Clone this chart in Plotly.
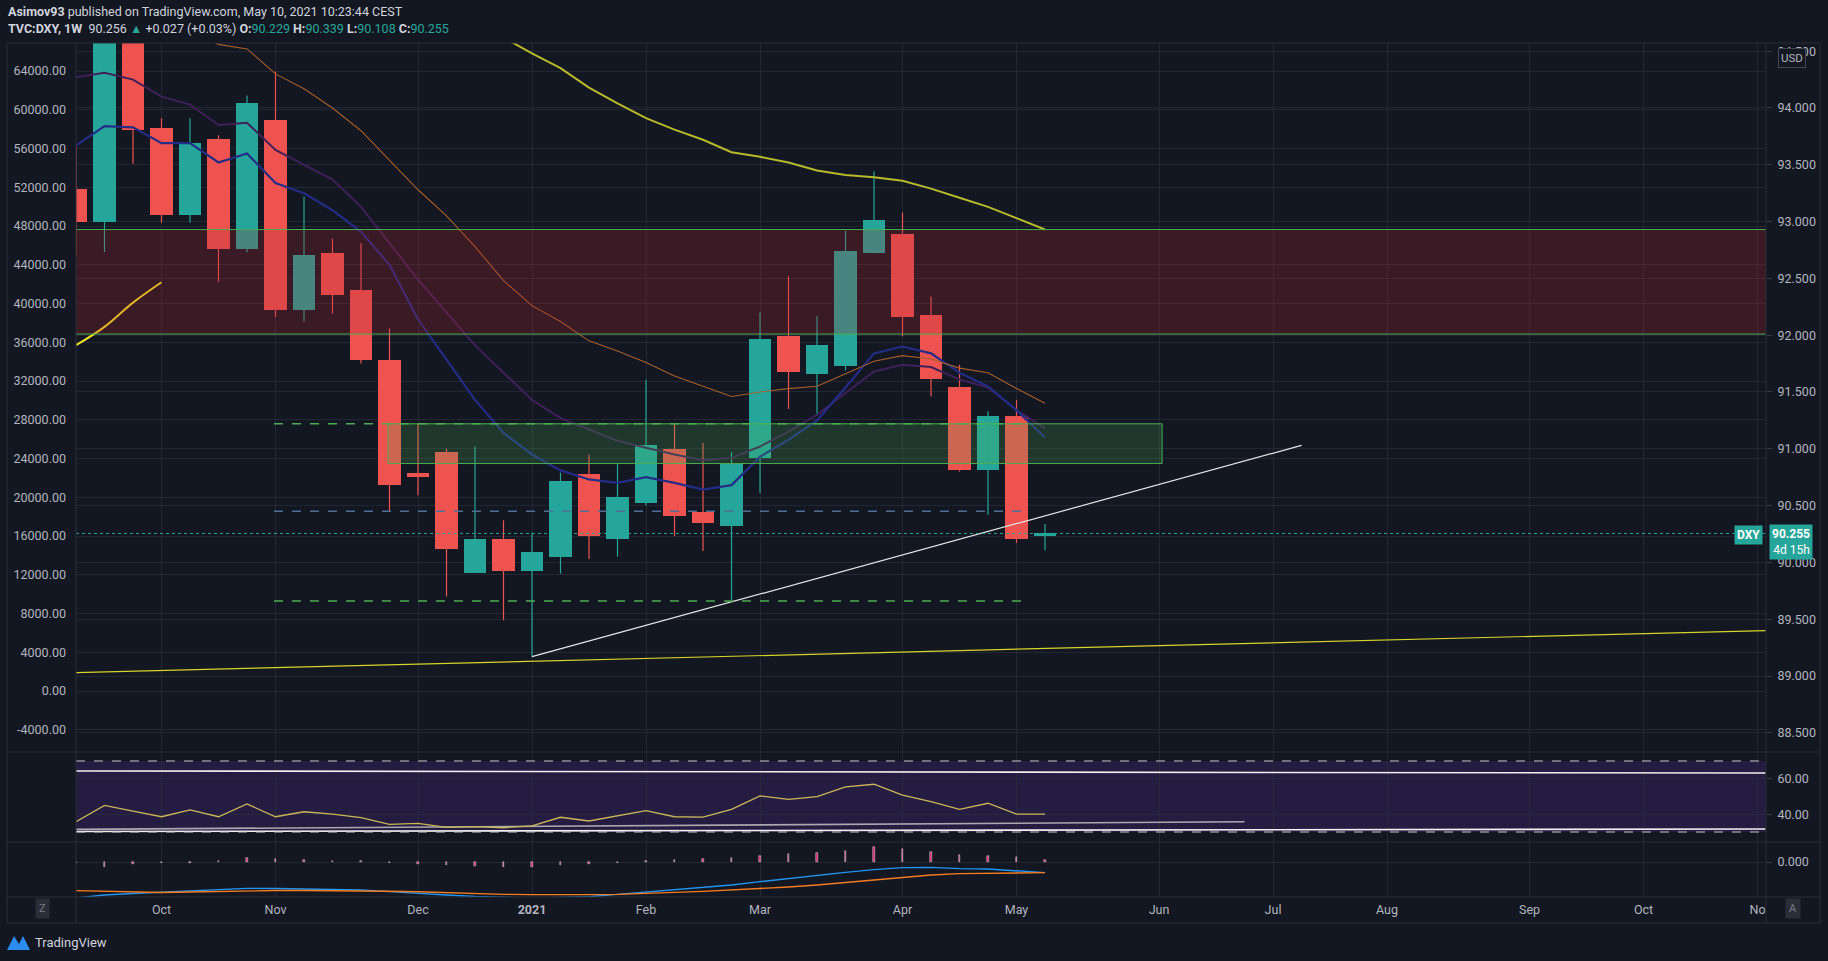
import pandas as pd
import plotly.graph_objects as go

W, H = 1828, 961

# weekly DXY candles
weeks = pd.date_range("2020-09-14", periods=35, freq="7D")
dxy_open = [93.29, 93.00, 94.62, 93.82, 93.06, 93.73, 92.76, 93.89, 92.22, 92.72,
            92.40, 91.78, 90.79, 90.97, 89.91, 90.21, 89.92, 90.05, 90.78, 90.21,
            90.52, 91.00, 90.44, 90.32, 90.92, 91.99, 91.66, 91.73, 92.72, 92.89,
            92.18, 91.54, 90.81, 91.29, 90.229]
dxy_high = [93.66, 94.74, 94.75, 93.91, 93.91, 93.76, 94.11, 94.32, 93.22, 92.85,
            92.81, 92.06, 91.22, 91.00, 91.02, 90.37, 90.26, 90.79, 90.95, 90.87,
            91.61, 91.22, 91.05, 90.97, 92.20, 92.52, 92.17, 92.92, 93.44, 93.08,
            92.34, 91.74, 91.33, 91.43, 90.339]
dxy_low = [92.70, 92.73, 93.51, 92.99, 92.99, 92.47, 92.73, 92.16, 92.12, 92.19,
           91.75, 90.45, 90.59, 89.70, 89.91, 89.49, 89.17, 89.90, 90.03, 90.05,
           90.50, 90.23, 90.10, 89.67, 90.61, 91.35, 91.29, 91.69, 92.72, 91.99,
           91.46, 90.80, 90.42, 90.17, 90.108]
dxy_close = [93.00, 94.62, 93.81, 93.06, 93.69, 92.76, 94.04, 92.22, 92.71, 92.35,
             91.78, 90.68, 90.75, 90.12, 90.21, 89.92, 90.09, 90.72, 90.23, 90.58,
             91.03, 90.41, 90.35, 90.87, 91.97, 91.68, 91.91, 92.74, 93.01, 92.16,
             91.61, 90.81, 91.29, 90.21, 90.255]

# moving averages on the price scale
ma_orange = [None, None, None, None, 94.70, 94.56, 94.52, 94.30, 94.17, 94.00,
             93.80, 93.54, 93.28, 93.05, 92.78, 92.48, 92.26, 92.12, 91.95, 91.86,
             91.76, 91.64, 91.55, 91.46, 91.50, 91.53, 91.55, 91.66, 91.77, 91.82,
             91.79, 91.71, 91.67, 91.53, 91.40]
ma_blue = [93.67, 93.84, 93.83, 93.69, 93.69, 93.52, 93.60, 93.34, 93.25, 93.10,
           92.91, 92.62, 92.14, 91.78, 91.43, 91.14, 90.95, 90.81, 90.73, 90.70,
           90.75, 90.70, 90.64, 90.68, 90.93, 91.08, 91.25, 91.54, 91.84, 91.90,
           91.84, 91.67, 91.55, 91.34, 91.10]
ma_purple = [94.27, 94.31, 94.25, 94.10, 94.03, 93.85, 93.87, 93.63, 93.50, 93.37,
             93.13, 92.81, 92.49, 92.20, 91.91, 91.67, 91.43, 91.27, 91.17, 91.07,
             91.01, 90.95, 90.90, 90.92, 91.02, 91.15, 91.30, 91.49, 91.68, 91.74,
             91.72, 91.61, 91.54, 91.34, 91.18]
ma_olive = [None] * 15 + [94.62, 94.48, 94.35, 94.18, 94.04, 93.91, 93.81, 93.72,
                          93.61, 93.57, 93.52, 93.45, 93.41, 93.39, 93.36, 93.29,
                          93.21, 93.13, 93.03, 92.93]
# overlay on the left scale
overlay_left = [35700, 37600, 40100, 42200] + [None] * 31

# RSI and MACD panes
rsi = [35.8, 45.0, 41.8, 38.6, 42.4, 38.6, 45.8, 38.6, 41.4, 40.1,
       38.1, 34.3, 34.9, 32.6, 33.0, 32.4, 33.4, 38.3, 36.2, 39.0,
       42.0, 38.6, 38.4, 42.8, 50.3, 48.4, 49.9, 55.4, 56.9, 50.8,
       47.1, 42.8, 46.2, 40.1, 40.1]
macd = [-1.08, -0.99, -0.945, -0.91, -0.87, -0.825, -0.79, -0.795, -0.81, -0.82,
        -0.84, -0.89, -0.93, -0.99, -1.035, -1.065, -1.08, -1.065, -1.04, -0.97,
        -0.90, -0.84, -0.78, -0.69, -0.59, -0.49, -0.40, -0.31, -0.23, -0.17,
        -0.16, -0.20, -0.21, -0.26, -0.32]
signal = [-0.86, -0.876, -0.894, -0.915, -0.90, -0.885, -0.86, -0.855, -0.855, -0.86,
          -0.86, -0.876, -0.894, -0.924, -0.95, -0.97, -0.98, -0.985, -0.98, -0.97,
          -0.93, -0.91, -0.88, -0.84, -0.79, -0.75, -0.69, -0.62, -0.55, -0.46,
          -0.39, -0.35, -0.34, -0.32, -0.32]
hist = [-0.03, -0.15, -0.06, -0.03, -0.03, 0.03, 0.12, 0.10, 0.06, 0.04,
        0.02, -0.03, -0.06, -0.10, -0.12, -0.15, -0.15, -0.10, -0.06, -0.03,
        0.03, 0.06, 0.09, 0.12, 0.18, 0.24, 0.27, 0.33, 0.45, 0.39,
        0.30, 0.21, 0.18, 0.15, 0.05]

# drawings
red_zone = [92.01, 92.93]
green_zone = [90.87, 91.22]
green_zone_dates = ["2020-11-29 15:00", "2021-06-07 18:00"]
level_dates = ["2020-11-01 15:00", "2021-05-05 00:00"]
green_levels = [91.22, 89.66]
blue_level = 90.45
last_price = 90.255
trend_white_x = ["2021-01-04", "2021-07-12"]
trend_white_y = [89.17, 91.03]
trend_yellow_x = ["2020-09-14", "2021-11-03"]
trend_yellow_y = [89.03, 89.40]
rsi_top_x = ["2020-09-14", "2021-11-03"]
rsi_top_y = [64.4, 63.2]
rsi_bottom_y = [30.3, 31.7]
rsi_short_x = ["2020-09-14", "2021-06-28"]
rsi_short_y = [31.5, 35.8]

month_ticks = ["2020-10-05", "2020-11-02", "2020-12-07", "2021-01-04", "2021-02-01",
               "2021-03-01", "2021-04-05", "2021-05-03", "2021-06-07", "2021-07-05",
               "2021-08-02", "2021-09-06", "2021-10-04", "2021-11-01"]
month_labels = ["Oct", "Nov", "Dec", "<b>2021</b>", "Feb", "Mar", "Apr", "May", "Jun",
                "Jul", "Aug", "Sep", "Oct", "No"]
price_ticks = [88.5, 89.0, 89.5, 90.0, 90.5, 91.0, 91.5, 92.0, 92.5, 93.0, 93.5, 94.0, 94.5]
left_ticks = list(range(-4000, 64001, 4000))

BG = "#131722"
GRID = "rgba(42,46,57,0.75)"
BORDER = "#2a2e39"
TXT = "#b2b5be"
UP = "#26a69a"
DOWN = "#ef5350"
FONT = "Roboto"


def px(x):
    return x / W


def py(y):
    return 1 - y / H


fig = go.Figure()

# candle wicks
for is_up, col in [(True, UP), (False, DOWN)]:
    wx, wy = [], []
    for d, o, h, l, c in zip(weeks, dxy_open, dxy_high, dxy_low, dxy_close):
        if (c >= o) == is_up:
            wx += [d, d, None]
            wy += [l, h, None]
    fig.add_trace(go.Scatter(x=wx, y=wy, mode="lines", line=dict(color=col, width=1.2),
                             xaxis="x", yaxis="y", hoverinfo="skip"))

# candle bodies
body_base = [min(o, c) for o, c in zip(dxy_open, dxy_close)]
body_len = [max(abs(c - o), 0.012) for o, c in zip(dxy_open, dxy_close)]
body_col = [UP if c >= o else DOWN for o, c in zip(dxy_open, dxy_close)]
fig.add_trace(go.Bar(x=weeks, y=body_len, base=body_base, width=0.8 * 7 * 86400000,
                     marker=dict(color=body_col, line=dict(width=0)),
                     xaxis="x", yaxis="y"))

# moving averages
for vals, col, wd in [(ma_purple, "#40205a", 2), (ma_blue, "#232d88", 2.2),
                      (ma_orange, "#a95f28", 1.1), (ma_olive, "#b9b92c", 2)]:
    fig.add_trace(go.Scatter(x=weeks, y=vals, mode="lines", line=dict(color=col, width=wd),
                             xaxis="x", yaxis="y", connectgaps=False))
fig.add_trace(go.Scatter(x=weeks, y=overlay_left, mode="lines",
                         line=dict(color="#f2e424", width=2, shape="spline"),
                         xaxis="x", yaxis="y2"))

# trend lines
fig.add_trace(go.Scatter(x=trend_yellow_x, y=trend_yellow_y, mode="lines",
                         line=dict(color="#d8d42a", width=1.2), xaxis="x", yaxis="y"))
fig.add_trace(go.Scatter(x=trend_white_x, y=trend_white_y, mode="lines",
                         line=dict(color="#e6e6e6", width=1.2), xaxis="x", yaxis="y"))

# RSI pane
fig.add_trace(go.Scatter(x=rsi_top_x, y=rsi_top_y, mode="lines",
                         line=dict(color="#f0f0f0", width=1.6), xaxis="x2", yaxis="y3"))
fig.add_trace(go.Scatter(x=rsi_top_x, y=rsi_bottom_y, mode="lines",
                         line=dict(color="#f0f0f0", width=1.6), xaxis="x2", yaxis="y3"))
fig.add_trace(go.Scatter(x=rsi_short_x, y=rsi_short_y, mode="lines",
                         line=dict(color="#a9a9b0", width=1.6), xaxis="x2", yaxis="y3"))
fig.add_trace(go.Scatter(x=weeks, y=rsi, mode="lines", line=dict(color="#cdb65a", width=1.3),
                         xaxis="x2", yaxis="y3"))

# MACD pane
fig.add_trace(go.Bar(x=weeks, y=hist, width=0.35 * 86400000, marker=dict(color="#e0185e"),
                     xaxis="x3", yaxis="y4"))
fig.add_trace(go.Scatter(x=weeks, y=macd, mode="lines", line=dict(color="#2196f3", width=1.4),
                         xaxis="x3", yaxis="y4"))
fig.add_trace(go.Scatter(x=weeks, y=signal, mode="lines", line=dict(color="#f57c1f", width=1.4),
                         xaxis="x3", yaxis="y4"))

shapes = [
    # red resistance zone
    dict(type="rect", xref="x domain", yref="y", x0=0, x1=1, y0=red_zone[0], y1=red_zone[1],
         fillcolor="rgba(175,35,46,0.25)", line=dict(width=0), layer="above"),
    dict(type="line", xref="x domain", yref="y", x0=0, x1=1, y0=red_zone[0], y1=red_zone[0],
         line=dict(color="#4caf50", width=1), layer="above"),
    dict(type="line", xref="x domain", yref="y", x0=0, x1=1, y0=red_zone[1], y1=red_zone[1],
         line=dict(color="#4caf50", width=1), layer="above"),
    # green zone
    dict(type="rect", xref="x", yref="y", x0=green_zone_dates[0], x1=green_zone_dates[1],
         y0=green_zone[0], y1=green_zone[1], fillcolor="rgba(76,175,80,0.22)",
         line=dict(color="#4caf50", width=1), layer="above"),
    # last price dotted
    dict(type="line", xref="x domain", yref="y", x0=0, x1=1, y0=last_price, y1=last_price,
         line=dict(color=UP, width=1, dash="dot"), layer="above"),
    # blue dashed level
    dict(type="line", xref="x", yref="y", x0=level_dates[0], x1=level_dates[1],
         y0=blue_level, y1=blue_level, line=dict(color="#4f6f96", width=1.5, dash="dash"),
         layer="above"),
    # RSI band
    dict(type="rect", xref="x2 domain", yref="y3", x0=0, x1=1, y0=30, y1=70,
         fillcolor="rgba(110,50,190,0.2)", line=dict(width=0), layer="below"),
    dict(type="line", xref="x2 domain", yref="y3", x0=0, x1=1, y0=70, y1=70,
         line=dict(color="#c8c8cc", width=1, dash="dash"), layer="above"),
    dict(type="line", xref="x2 domain", yref="y3", x0=0, x1=1, y0=30, y1=30,
         line=dict(color="#c8c8cc", width=1, dash="dash"), layer="above"),
]
for lv in green_levels:
    shapes.append(dict(type="line", xref="x", yref="y", x0=level_dates[0], x1=level_dates[1],
                       y0=lv, y1=lv, line=dict(color="#4caf50", width=1.5, dash="dash"),
                       layer="above"))

# frame and pane separators
frame_l, frame_r, frame_t, frame_b = px(7), px(1820), py(43), py(923)
shapes.append(dict(type="rect", xref="paper", yref="paper", x0=frame_l, x1=frame_r,
                   y0=frame_b, y1=frame_t, line=dict(color=BORDER, width=1)))
for ysep in [752, 842, 897]:
    shapes.append(dict(type="line", xref="paper", yref="paper", x0=frame_l, x1=frame_r,
                       y0=py(ysep), y1=py(ysep), line=dict(color=BORDER, width=1)))
for xsep in [76, 1766]:
    shapes.append(dict(type="line", xref="paper", yref="paper", x0=px(xsep), x1=px(xsep),
                       y0=frame_b, y1=frame_t, line=dict(color=BORDER, width=1)))
# tradingview logo mark
shapes.append(dict(type="path", xref="paper", yref="paper",
                   path=f"M {px(7)} {py(950)} L {px(14)} {py(936)} L {px(19)} {py(944)} "
                        f"L {px(23)} {py(936)} L {px(30)} {py(950)} Z",
                   fillcolor="#2d8cf0", line=dict(width=0)))

xdom = [px(76), px(1766)]
x_range = ["2020-09-14 00:00", "2021-11-03 02:00"]
axis_font = dict(family=FONT, size=12.5, color=TXT)

xcommon = dict(type="date", range=x_range, tickvals=month_ticks, ticktext=month_labels,
               showgrid=True, gridcolor=GRID, zeroline=False, showline=False,
               domain=xdom)

fig.update_layout(
    width=W, height=H,
    margin=dict(l=0, r=0, t=0, b=0),
    paper_bgcolor=BG, plot_bgcolor=BG,
    showlegend=False, barmode="overlay", bargap=0,
    font=dict(family=FONT, color=TXT),
    xaxis=dict(**xcommon, anchor="y", showticklabels=False),
    xaxis2=dict(**xcommon, anchor="y3", matches="x", showticklabels=False),
    xaxis3=dict(**xcommon, anchor="y4", matches="x", showticklabels=True,
                tickfont=axis_font, ticks="", ticklabelstandoff=3),
    yaxis=dict(domain=[py(752), py(43)], range=[88.331, 94.572], side="right", anchor="x",
               tickvals=price_ticks, ticktext=[f"{v:.3f}" for v in price_ticks],
               tickfont=axis_font, showgrid=True, gridcolor=GRID, zeroline=False,
               ticks="outside", ticklen=5, tickcolor="#3a3e4a", ticklabelstandoff=3),
    yaxis2=dict(domain=[py(752), py(43)], range=[-6287, 66900], side="left",
                overlaying="y", anchor="x",
                tickvals=left_ticks, ticktext=[f"{v}.00" for v in left_ticks],
                tickfont=axis_font, showgrid=True, gridcolor=GRID, zeroline=False,
                ticks="", ticklabelstandoff=9),
    yaxis3=dict(domain=[py(842), py(752)], range=[24.37, 75.07], side="right", anchor="x2",
                tickvals=[40, 60], ticktext=["40.00", "60.00"], tickfont=axis_font,
                showgrid=True, gridcolor=GRID, zeroline=False,
                ticks="outside", ticklen=5, tickcolor="#3a3e4a", ticklabelstandoff=3),
    yaxis4=dict(domain=[py(897), py(842)], range=[-1.05, 0.6], side="right", anchor="x3",
                tickvals=[0], ticktext=["0.000"], tickfont=axis_font,
                showgrid=True, gridcolor=GRID, zeroline=False,
                ticks="outside", ticklen=5, tickcolor="#3a3e4a", ticklabelstandoff=3),
    shapes=shapes,
)


def note(x, y, text, xanchor="center", **kw):
    fig.add_annotation(xref="paper", yref="paper", x=px(x), y=py(y), text=text,
                       xanchor=xanchor, yanchor="middle", showarrow=False, **kw)


hdr = dict(family=FONT, size=12.5, color="#d1d4dc")
teal = "#26a69a"
note(6, 12, "<b>Asimov93</b> published on TradingView.com, May 10, 2021 10:23:44 CEST",
     xanchor="left", font=hdr)
note(6, 29, (f"<b>TVC:DXY, 1W</b>  90.256 <span style='color:{teal}'>▲</span> "
             f"+0.027 (+0.03%) <b>O:</b><span style='color:{teal}'>90.229</span> "
             f"<b>H:</b><span style='color:{teal}'>90.339</span> "
             f"<b>L:</b><span style='color:{teal}'>90.108</span> "
             f"<b>C:</b><span style='color:{teal}'>90.255</span>"),
     xanchor="left", font=hdr)
note(1792, 58, "USD", font=dict(family=FONT, size=11.5, color=TXT),
     bgcolor=BG, bordercolor="#434651", borderwidth=1, borderpad=2)
note(1748, 534.5, "<b>DXY</b>", font=dict(family=FONT, size=12, color="white"),
     bgcolor=teal, borderpad=2)
note(1791, 541.5, "<b>90.255</b><br>4d 15h", align="right",
     font=dict(family=FONT, size=12, color="white"), bgcolor=teal, borderpad=2)
note(42, 908, "Z", font=dict(family=FONT, size=11, color="#787b86"),
     bgcolor="#2a2e39", borderpad=3)
note(1793, 908, "A", font=dict(family=FONT, size=11, color="#787b86"),
     bgcolor="#2a2e39", borderpad=3)
note(33, 942, "TradingView", xanchor="left", font=dict(family=FONT, size=13, color="#d1d4dc"))

fig.write_html("out.html", config={"displayModeBar": False},
               post_script="document.body.style.margin='0';"
                           "document.body.style.background='#131722';")
